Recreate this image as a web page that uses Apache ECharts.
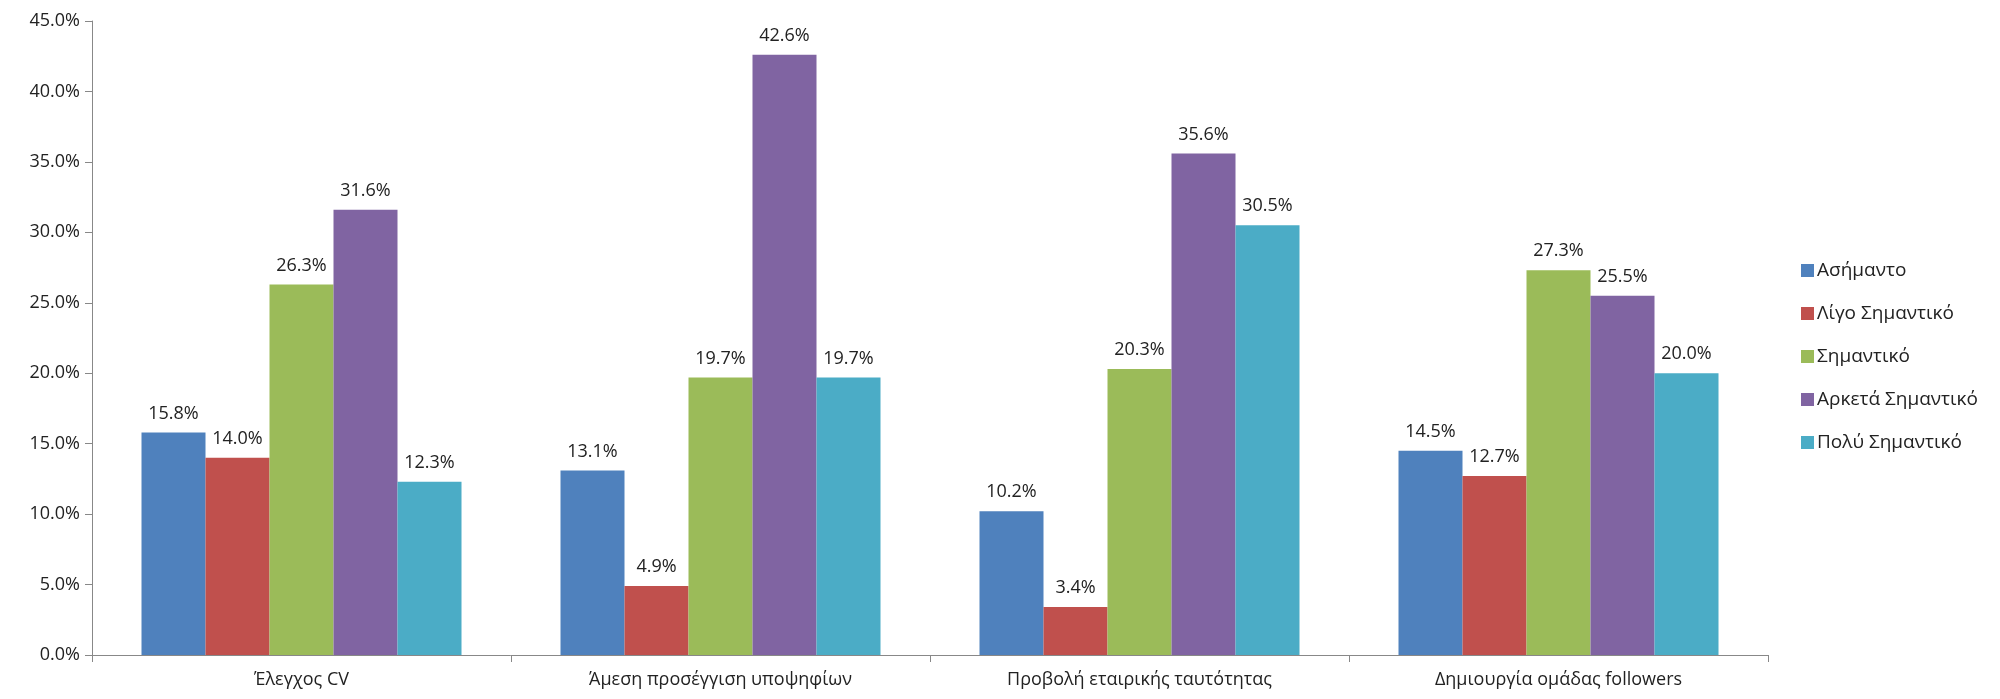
<!DOCTYPE html>
<html><head><meta charset="utf-8">
<script src="https://cdn.jsdelivr.net/npm/echarts@6/dist/echarts.min.js"></script>
<style>html,body{margin:0;padding:0;background:#fff}#c{width:2000px;height:699px}</style>
</head><body><div id="c"></div>
<script>
const categories = ["Έλεγχος CV", "Άμεση προσέγγιση υποψηφίων", "Προβολή εταιρικής ταυτότητας", "Δημιουργία ομάδας followers"];
const seriesNames = ["Ασήμαντο", "Λίγο Σημαντικό", "Σημαντικό", "Αρκετά Σημαντικό", "Πολύ Σημαντικό"];
const asimanto = [15.8, 13.1, 10.2, 14.5];
const ligo = [14.0, 4.9, 3.4, 12.7];
const simantiko = [26.3, 19.7, 20.3, 27.3];
const arketa = [31.6, 42.6, 35.6, 25.5];
const poly = [12.3, 19.7, 30.5, 20.0];
const colors = ["#4F81BD", "#C0504D", "#9BBB59", "#8064A2", "#4BACC6"];
const values = [asimanto, ligo, simantiko, arketa, poly];
const font = "'Open Sans', 'Noto Sans', sans-serif";
const chart = echarts.init(document.getElementById('c'));
chart.setOption({
  animation: false,
  grid: {left: 92, right: 232, top: 21, bottom: 44, containLabel: false},
  legend: {
    orient: 'vertical', left: 1796, top: 256, itemGap: 24, itemWidth: 13, itemHeight: 13,
    icon: 'rect', itemStyle: {borderWidth: 0}, textStyle: {fontFamily: font, fontSize: 19, color: '#222', padding: [0, 0, 0, -2]},
    data: seriesNames
  },
  xAxis: {
    type: 'category', data: categories,
    axisLine: {lineStyle: {color: '#888', width: 1}},
    axisTick: {show: true, length: 7, lineStyle: {color: '#888'}},
    axisLabel: {fontFamily: font, fontSize: 18, color: '#222', margin: 16}
  },
  yAxis: {
    type: 'value', min: 0, max: 45, interval: 5,
    axisLine: {show: true, lineStyle: {color: '#888', width: 1}},
    axisTick: {show: true, length: 7, inside: false, lineStyle: {color: '#888'}},
    splitLine: {show: false},
    axisLabel: {fontFamily: font, fontSize: 18, color: '#222', margin: 12, formatter: v => v.toFixed(1) + '%'}
  },
  series: values.map((d, i) => ({
    name: seriesNames[i], type: 'bar', data: d, barWidth: 64, barGap: '0%',
    itemStyle: {color: colors[i]},
    label: {show: true, position: 'top', distance: 10, fontFamily: font, fontSize: 18, color: '#222',
      formatter: p => p.value.toFixed(1) + '%'}
  }))
});
</script></body></html>
